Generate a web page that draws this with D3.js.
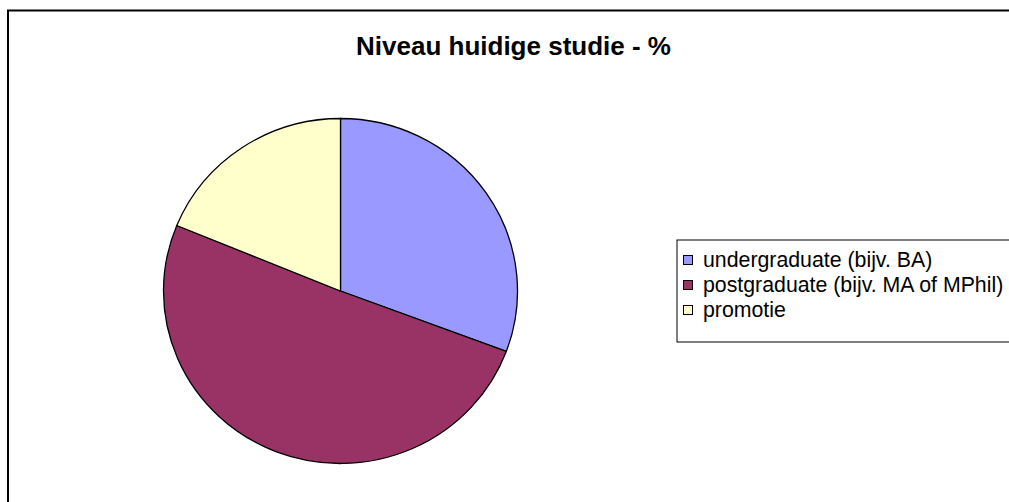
<!DOCTYPE html>
<html>
<head>
<meta charset="utf-8">
<script src="https://cdn.jsdelivr.net/npm/d3@7"></script>
<style>
  body { margin: 0; background: #fff; }
  text { font-family: Arial, "Liberation Sans", sans-serif; }
</style>
</head>
<body>
<svg width="1009" height="502"></svg>
<script>
// chart data
var categories = ["undergraduate (bijv. BA)", "postgraduate (bijv. MA of MPhil)", "promotie"];
var values = [30.7, 50.5, 18.8];
var colors = ["#9999ff", "#993366", "#ffffcc"];
var title = "Niveau huidige studie - %";

var svg = d3.select("svg");

// outer frame (runs off the right and bottom edge)
svg.append("rect")
    .attr("x", 8)
    .attr("y", 10.5)
    .attr("width", 1100)
    .attr("height", 600)
    .style("fill", "white")
    .style("stroke", "black")
    .style("stroke-width", 2);

svg.append("text")
    .attr("x", 513.5)
    .attr("y", 55)
    .attr("text-anchor", "middle")
    .style("font-size", "26px")
    .style("font-weight", "bold")
    .text(title);

var color = d3.scaleOrdinal().domain(categories).range(colors);

var pie = d3.pie().sort(null).value(function(d) { return d.value; });
var arcs = pie(categories.map(function(c, i) { return {name: c, value: values[i]}; }));

var rx = 177, ry = 172.5;
var arc = d3.arc().innerRadius(0).outerRadius(rx);

var g = svg.append("g")
    .attr("transform", "translate(340.5,291) scale(1," + (ry / rx) + ")");

g.selectAll("path")
    .data(arcs)
    .enter().append("path")
    .attr("d", arc)
    .style("fill", function(d) { return color(d.data.name); })
    .style("stroke", "black")
    .style("stroke-width", 1.3);

// legend
var legend = svg.append("g").attr("transform", "translate(677,240)");
legend.append("rect")
    .attr("x", 0)
    .attr("y", 0)
    .attr("width", 400)
    .attr("height", 102)
    .style("fill", "white")
    .style("stroke", "black")
    .style("stroke-width", 1);

var rows = legend.selectAll("g.row")
    .data(categories)
    .enter().append("g")
    .attr("class", "row")
    .attr("transform", function(d, i) { return "translate(0," + (i * 25) + ")"; });

rows.append("rect")
    .attr("x", 6.5)
    .attr("y", 15.5)
    .attr("width", 9)
    .attr("height", 9)
    .style("fill", function(d) { return color(d); })
    .style("stroke", "black")
    .style("stroke-width", 1);

rows.append("text")
    .attr("x", 26)
    .attr("y", 27)
    .style("font-size", "21.3px")
    .text(function(d) { return d; });
</script>
</body>
</html>
